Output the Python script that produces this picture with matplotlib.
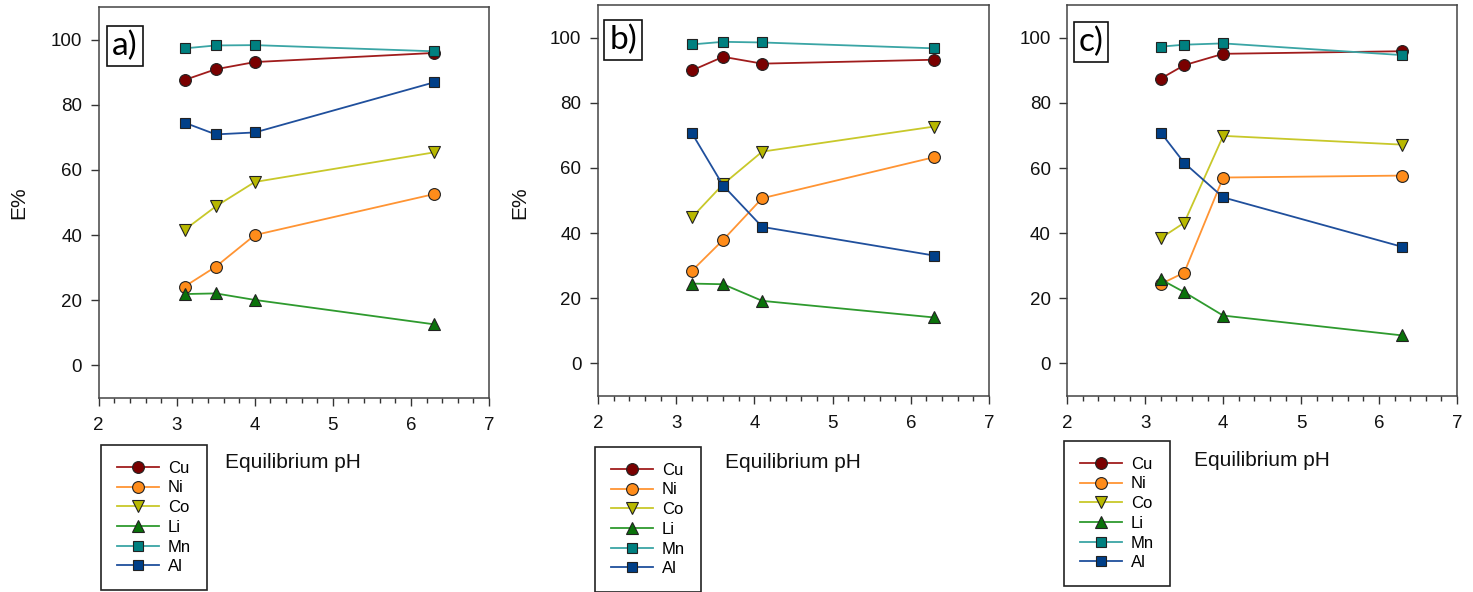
import matplotlib
matplotlib.use("Agg")
import matplotlib.pyplot as plt
from matplotlib.ticker import MultipleLocator

plt.rcParams['font.family'] = ['Liberation Sans', 'DejaVu Sans']

metals = ["Cu", "Ni", "Co", "Li", "Mn", "Al"]
panel_labels = ["a)", "b)", "c)"]

ph_a = [3.1, 3.5, 4.0, 6.3]
ph_b = [3.2, 3.6, 4.1, 6.3]
ph_c = [3.2, 3.5, 4.0, 6.3]

cu_a = [87.6, 90.9, 93.1, 95.9]
ni_a = [24.2, 30.3, 40.0, 52.6]
co_a = [41.6, 48.8, 56.3, 65.4]
li_a = [21.9, 22.1, 20.1, 12.6]
mn_a = [97.3, 98.2, 98.3, 96.4]
al_a = [74.5, 70.9, 71.5, 86.9]

cu_b = [89.9, 94.1, 92.0, 93.2]
ni_b = [28.4, 37.9, 50.7, 63.3]
co_b = [44.8, 55.0, 65.0, 72.7]
li_b = [24.5, 24.3, 19.2, 14.1]
mn_b = [97.9, 98.7, 98.5, 96.7]
al_b = [70.7, 54.6, 41.9, 33.1]

cu_c = [87.5, 91.6, 95.1, 95.9]
ni_c = [24.4, 27.9, 57.1, 57.7]
co_c = [38.5, 43.2, 69.9, 67.2]
li_c = [25.8, 21.9, 14.7, 8.6]
mn_c = [97.3, 97.9, 98.3, 94.7]
al_c = [70.9, 61.6, 51.0, 35.8]

panels = [
    (ph_a, [cu_a, ni_a, co_a, li_a, mn_a, al_a]),
    (ph_b, [cu_b, ni_b, co_b, li_b, mn_b, al_b]),
    (ph_c, [cu_c, ni_c, co_c, li_c, mn_c, al_c]),
]

line_colors = ["#a01c1c", "#ff9433", "#c8c82a", "#2e9a2e", "#3aa5a5", "#1f4f9c"]
fill_colors = ["#7a0000", "#ff8c1a", "#b8b800", "#0a720a", "#008080", "#003f88"]
markers = ["o", "o", "v", "^", "s", "s"]
msizes = [8.5, 8.5, 8.5, 8.5, 7.5, 7.5]

W, H = 1473, 592
fig = plt.figure(figsize=(W / 100, H / 100), dpi=100)

# axes boxes in pixels: left, top, right, bottom
boxes = [(98.7, 7, 489, 398), (598, 5, 989, 396), (1067.3, 5.3, 1457, 396)]
label_boxes = [(125, 46), (623, 40), (1091, 42)]
legend_tl = [(101, 445), (595, 447), (1064, 441)]
xlabel_pos = [(293, 463), (793, 462), (1262, 460)]
ylabel_x = [19, 520, None]

for i, ((x, series), (l, t, r, b)) in enumerate(zip(panels, boxes)):
    ax = fig.add_axes([l / W, 1 - b / H, (r - l) / W, (b - t) / H])
    handles = []
    for j, vals in enumerate(series):
        h, = ax.plot(x, vals, color=line_colors[j], lw=1.3, marker=markers[j],
                     markersize=msizes[j], markerfacecolor=fill_colors[j],
                     markeredgecolor="#222222", markeredgewidth=0.8, label=metals[j])
        handles.append(h)
    ax.set_xlim(2, 7)
    ax.set_ylim(-10, 110)
    ax.xaxis.set_major_locator(MultipleLocator(1))
    ax.xaxis.set_minor_locator(MultipleLocator(0.2))
    ax.yaxis.set_major_locator(MultipleLocator(20))
    ax.tick_params(axis='both', which='major', direction='out', length=6,
                   width=1, colors='#333333', labelcolor='#111111', labelsize=13.5)
    ax.tick_params(axis='x', which='minor', direction='out', length=3.5, width=1,
                   colors='#333333')
    ax.tick_params(axis='x', pad=8)
    ax.tick_params(axis='y', pad=6)
    for sp in ax.spines.values():
        sp.set_color('#444444')
        sp.set_linewidth(1.1)
    # panel label
    lx, ly = label_boxes[i]
    fig.text(lx / W, 1 - ly / H, panel_labels[i], fontsize=24, family=['Lato', 'DejaVu Sans'],
             ha='center', va='center',
             bbox=dict(boxstyle='square,pad=0.15', fc='white', ec='#111111', lw=1.2))
    # x label
    xx, xy = xlabel_pos[i]
    fig.text(xx / W, 1 - xy / H, "Equilibrium pH", fontsize=15, ha='center', va='center',
             color='#111111')
    if ylabel_x[i] is not None:
        fig.text(ylabel_x[i] / W, 1 - 203 / H, "E%", fontsize=15, rotation=90,
                 ha='center', va='center', color='#111111')
    # legend
    gx, gy = legend_tl[i]
    leg = fig.legend(handles=handles, loc='upper left',
                     bbox_to_anchor=(gx / W, 1 - gy / H), bbox_transform=fig.transFigure,
                     fontsize=12, frameon=True, fancybox=False, framealpha=1,
                     edgecolor='#222222', borderpad=0.95, labelspacing=0.28,
                     handlelength=2.5, handletextpad=0.55, borderaxespad=0,
                     markerscale=1.0)
    leg.get_frame().set_linewidth(1.2)

fig.savefig("out.png", dpi=100)
